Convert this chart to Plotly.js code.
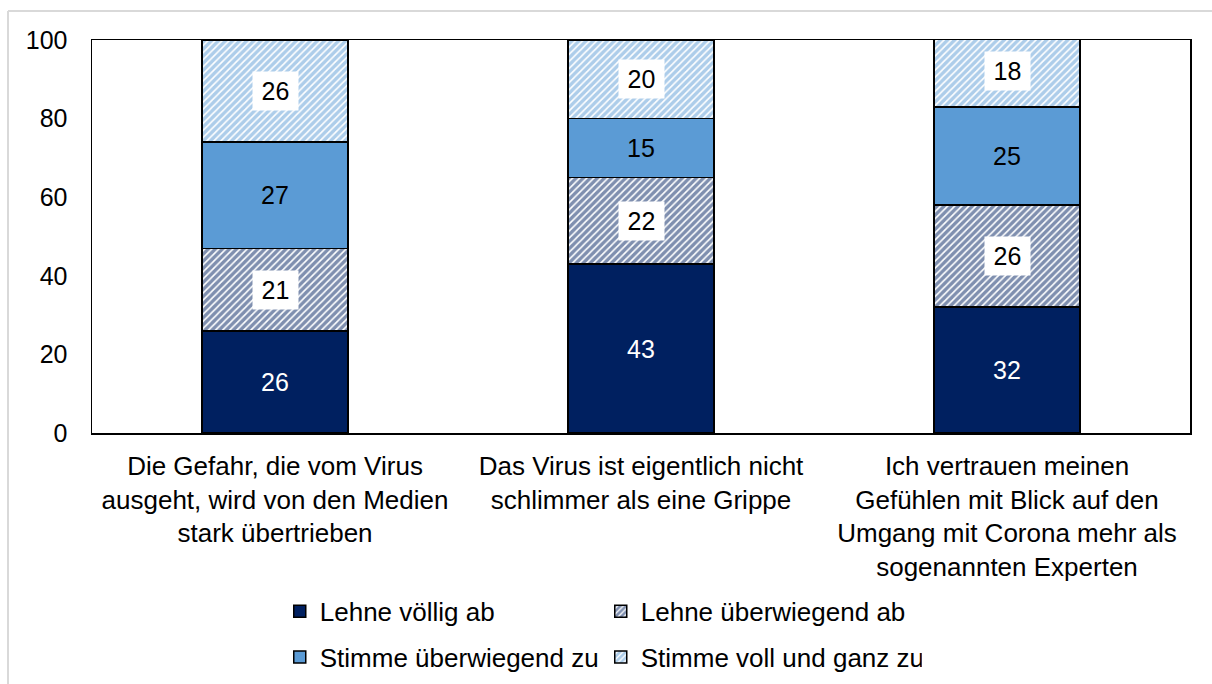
<!DOCTYPE html>
<html>
<head>
<meta charset="utf-8">
<script src="https://cdn.plot.ly/plotly-3.0.1.min.js"></script>
<style>
html,body{margin:0;padding:0;background:#fff;}
#chart{width:1212px;height:684px;}
</style>
</head>
<body>
<div id="chart"></div>
<script>
var categories = [
  "Die Gefahr, die vom Virus<br>ausgeht, wird von den Medien<br>stark übertrieben",
  "Das Virus ist eigentlich nicht<br>schlimmer als eine Grippe",
  "Ich vertrauen meinen<br>Gefühlen mit Blick auf den<br>Umgang mit Corona mehr als<br>sogenannten Experten"
];
var seriesNames = ["Lehne völlig ab", "Lehne überwiegend ab", "Stimme überwiegend zu", "Stimme voll und ganz zu"];
var lehneVoellig = [26, 43, 32];
var lehneUeberwiegend = [21, 22, 26];
var stimmeUeberwiegend = [27, 15, 25];
var stimmeVoll = [26, 20, 18];
var yTicks = [0, 20, 40, 60, 80, 100];

var NAVY = "#002060", MID = "#5B9BD5";
var FONT = "Liberation Sans, Arial, sans-serif";
var FS = 26, FN = 25;
var series = [lehneVoellig, lehneUeberwiegend, stimmeUeberwiegend, stimmeVoll];
var styles = [
  {color: NAVY, pattern: null, legend: "legend", label: "solid", txt: "#ffffff"},
  {color: NAVY, pattern: true, legend: "legend", label: "box", txt: "#000000"},
  {color: MID, pattern: null, legend: "legend2", label: "solid", txt: "#000000"},
  {color: MID, pattern: true, legend: "legend2", label: "box", txt: "#000000"}
];

var traces = series.map(function(vals, i){
  var st = styles[i];
  var marker = {color: st.pattern ? "#ffffff" : st.color, line: {color: "#000000", width: 1.5}};
  if (st.pattern) {
    marker.pattern = {shape: "/", fgcolor: st.color, bgcolor: "#ffffff", size: 5, solidity: 0.68, fillmode: "overlay"};
  }
  return {
    type: "bar", name: seriesNames[i], x: [0,1,2], y: vals,
    marker: marker, width: 0.4, legend: st.legend, hoverinfo: "skip"
  };
});

var annotations = [];
var cum = [0,0,0];
series.forEach(function(vals, i){
  var st = styles[i];
  vals.forEach(function(v, j){
    var mid = cum[j] + v/2;
    cum[j] += v;
    var a = {x: j, y: mid, xref: "x", yref: "y", text: String(v), showarrow: false,
      font: {family: FONT, size: FN, color: st.txt}};
    if (st.label === "box") { a.bgcolor = "#ffffff"; a.borderpad = 4; a.width = 37; a.height = 30; }
    annotations.push(a);
  });
});

var legFont = {family: FONT, size: FS, color: "#000000"};
var layout = {
  width: 1212, height: 684,
  margin: {l: 92, r: 22, t: 40, b: 251, autoexpand: false},
  paper_bgcolor: "#ffffff", plot_bgcolor: "#ffffff",
  barmode: "stack", bargap: 0.6,
  font: {family: FONT, size: FS, color: "#000000"},
  xaxis: {
    tickmode: "array", tickvals: [0,1,2], ticktext: categories,
    range: [-0.5, 2.5], showgrid: false, zeroline: false,
    showline: true, linecolor: "#000000", linewidth: 1.5, mirror: true,
    ticks: "", ticklabelstandoff: 9, automargin: false,
    tickfont: {family: FONT, size: FS, color: "#000000"}
  },
  yaxis: {
    range: [0, 100], tickmode: "array", tickvals: yTicks, ticktext: yTicks.map(String),
    showgrid: false, zeroline: false, automargin: false,
    showline: true, linecolor: "#000000", linewidth: 1.5, mirror: true,
    ticks: "", ticklabelstandoff: 18, tickfont: {family: FONT, size: FN, color: "#000000"}
  },
  showlegend: true,
  legend: {orientation: "h", x: 0.171, xanchor: "left", y: -0.454, yanchor: "middle",
    entrywidth: 276, entrywidthmode: "pixels", traceorder: "normal",
    font: legFont, itemwidth: 30},
  legend2: {orientation: "h", x: 0.171, xanchor: "left", y: -0.570, yanchor: "middle",
    entrywidth: 276, entrywidthmode: "pixels", traceorder: "normal",
    font: legFont, itemwidth: 30},
  annotations: annotations,
  shapes: [
    {type: "line", xref: "paper", yref: "paper", x0: -0.0765, x1: 1.1, y0: 1.074, y1: 1.074, line: {color: "#d9d9d9", width: 2}},
    {type: "line", xref: "paper", yref: "paper", x0: -0.0765, x1: -0.0765, y0: 1.074, y1: -0.7, line: {color: "#d9d9d9", width: 2}}
  ]
};

Plotly.newPlot("chart", traces, layout, {displayModeBar: false, staticPlot: true});
</script>
</body>
</html>
